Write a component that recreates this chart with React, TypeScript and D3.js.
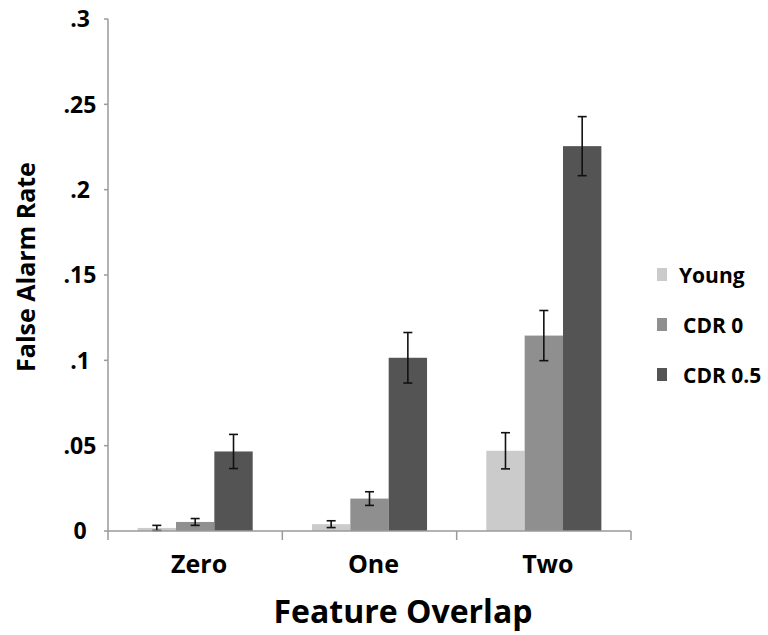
import * as d3 from 'd3';

const categories = ['Zero', 'One', 'Two'];
const seriesNames = ['Young', 'CDR 0', 'CDR 0.5'];
const young = [0.0018, 0.004, 0.047];
const cdr0 = [0.0053, 0.019, 0.1145];
const cdr05 = [0.0466, 0.1015, 0.2255];
const youngErr = [0.0015, 0.002, 0.0106];
const cdr0Err = [0.002, 0.004, 0.0147];
const cdr05Err = [0.010, 0.0148, 0.0173];
const yTickValues = [0, 0.05, 0.1, 0.15, 0.2, 0.25, 0.3];
const yTickLabels = ['0', '.05', '.1', '.15', '.2', '.25', '.3'];

const colors = ['#cbcbcb', '#8f8f8f', '#545454'];
const font = '"Open Sans", "DejaVu Sans", sans-serif';

export default function App() {
  document.body.style.margin = '0';
  const width = 768;
  const height = 635;

  const y = d3.scaleLinear().domain([0, 0.3]).range([531, 19]);
  const x = d3.scaleBand().domain(categories).range([108, 631]).padding(0);
  const bw = x.bandwidth();
  const inner = d3.scaleBand().domain(seriesNames).range([bw * 0.17, bw * 0.83]).padding(0);

  const values = [young, cdr0, cdr05];
  const errs = [youngErr, cdr0Err, cdr05Err];

  const bars = categories.flatMap((c, ci) =>
    seriesNames.map((s, si) => ({
      c, s, si, v: values[si][ci], e: errs[si][ci],
      x0: (x(c) as number) + (inner(s) as number),
    }))
  );

  return (
    <svg width={width} height={height} style={{ display: 'block', fontFamily: font }}>
      {/* bars */}
      {bars.map((b, i) => (
        <rect key={i} x={b.x0} y={y(b.v)} width={inner.bandwidth()} height={y(0) - y(b.v)}
          fill={colors[b.si]} />
      ))}
      {/* error bars */}
      {bars.map((b, i) => {
        const cx = b.x0 + inner.bandwidth() / 2;
        return (
          <g key={'e' + i} stroke="#111" strokeWidth={1.6}>
            <line x1={cx} x2={cx} y1={y(b.v + b.e)} y2={y(b.v - b.e)} />
            <line x1={cx - 4.5} x2={cx + 4.5} y1={y(b.v + b.e)} y2={y(b.v + b.e)} />
            <line x1={cx - 4.5} x2={cx + 4.5} y1={y(b.v - b.e)} y2={y(b.v - b.e)} />
          </g>
        );
      })}
      {/* y axis */}
      <line x1={108} x2={108} y1={y(0.3)} y2={y(0)} stroke="#9a9a9a" strokeWidth={1.5} />
      {yTickValues.map((t, i) => (
        <g key={'yt' + i}>
          <line x1={104} x2={108} y1={y(t)} y2={y(t)} stroke="#9a9a9a" strokeWidth={1.5} />
          <text x={80} y={y(t)} dy="0.36em" textAnchor="middle" fontSize={23} fontWeight="bold">
            {yTickLabels[i]}
          </text>
        </g>
      ))}
      {/* x axis */}
      <line x1={108} x2={631} y1={y(0)} y2={y(0)} stroke="#9a9a9a" strokeWidth={1.5} />
      {[...categories.map((c) => x(c) as number), 631].map((t, i) => (
        <line key={'xt' + i} x1={t} x2={t} y1={y(0)} y2={y(0) + 9} stroke="#9a9a9a" strokeWidth={1.5} />
      ))}
      {categories.map((c) => (
        <text key={c} x={(x(c) as number) + bw / 2 + 4} y={573} textAnchor="middle" fontSize={25} fontWeight="bold">
          {c}
        </text>
      ))}
      {/* titles */}
      <text x={403} y={623} textAnchor="middle" fontSize={32} fontWeight="bold">Feature Overlap</text>
      <text transform="translate(35,267) rotate(-90)" textAnchor="middle" fontSize={25} fontWeight="bold">
        False Alarm Rate
      </text>
      {/* legend */}
      {seriesNames.map((s, i) => (
        <g key={s} transform={`translate(657,${283 + i * 50})`}>
          <rect x={0} y={-15} width={10} height={13} fill={colors[i]} />
          <text x={i === 0 ? 22 : 26} y={0} fontSize={21} fontWeight="bold">{s}</text>
        </g>
      ))}
    </svg>
  );
}
